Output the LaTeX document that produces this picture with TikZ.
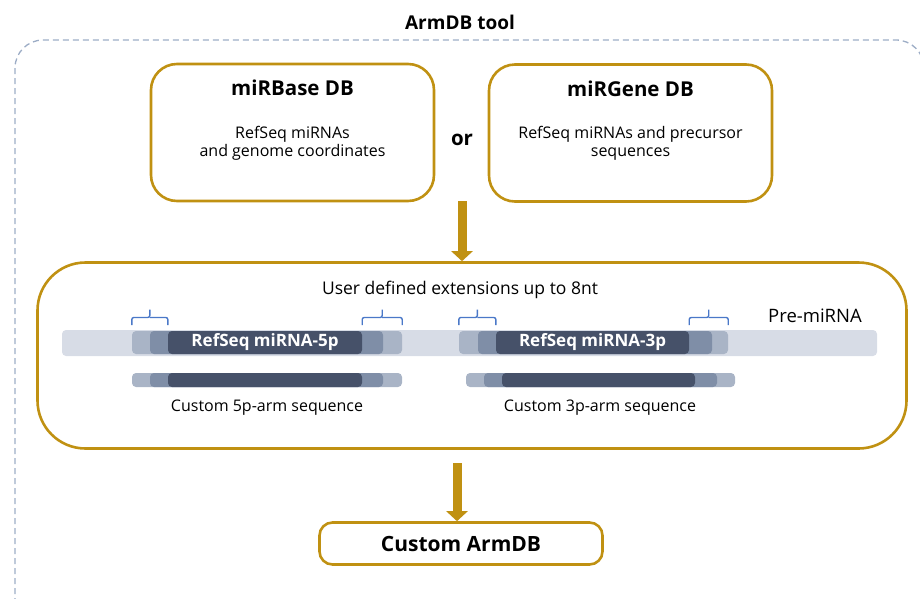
\documentclass[tikz,border=0pt]{standalone}
\usepackage{fontspec}
\setmainfont{Open Sans}
\usetikzlibrary{arrows.meta, positioning, calc}
\definecolor{armgold}{HTML}{C09112}
\definecolor{armdash}{HTML}{9DADC6}
\definecolor{bracketblue}{HTML}{4A78C8}
\definecolor{segpale}{HTML}{D7DCE6}
\definecolor{seglight}{HTML}{A9B4C6}
\definecolor{segmid}{HTML}{7F8EA7}
\definecolor{segdark}{HTML}{465169}

\begin{document}
\begin{tikzpicture}[x=1pt, y=-1pt,
    dbbox/.style={draw=armgold, line width=2.6pt, rounded corners=26pt, minimum width=283pt, minimum height=137pt},
    dbtitle/.style={font=\bfseries\fontsize{20.5}{24}\selectfont},
    dbtext/.style={font=\fontsize{16}{18}\selectfont, align=center},
    plain/.style={font=\fontsize{16}{19}\selectfont},
    seg/.style={rounded corners=4pt, inner sep=0pt, minimum height=#1},
    seg/.default=23pt,
    armline/.style={armgold, line width=9pt, -{Triangle[width=21pt, length=10pt]}},
    extbrace/.style={draw=bracketblue, line width=1.4pt, rounded corners=2pt}
  ]
    \useasboundingbox (0,0) rectangle (920,598);
    \begin{scope}
    \clip (0,0) rectangle (920,598);
    \draw[armdash, line width=1.3pt, dash pattern=on 6pt off 4pt, rounded corners=28pt] (15,40) rectangle (924,650);
    \end{scope}
    \node[font=\bfseries\fontsize{19}{22}\selectfont] (tool) at (460,22) {ArmDB tool};

    % the two sources
    \node[dbbox] (base) at (292.5,132.5) {};
    \node[dbtitle, below=14pt of base.north] (basetitle) {miRBase DB};
    \node[dbtext, below=23pt of basetitle] (basetext) {RefSeq miRNAs\\and genome coordinates};
    \node[dbbox] (gene) at (630.5,133) {};
    \node[dbtitle, below=14pt of gene.north] (genetitle) {miRGene DB};
    \node[dbtext, below=23pt of genetitle] (genetext) {RefSeq miRNAs and precursor\\sequences};
    \node[dbtitle] (or) at (462,140) {or};

    % extension step
    \node[draw=armgold, line width=2.6pt, rounded corners=48pt, minimum width=869pt, minimum height=186pt] (ext) at (472,355.5) {};
    \node[font=\fontsize{17.5}{20}\selectfont] (extlabel) at (460,290) {User defined extensions up to 8nt};
    \node[font=\fontsize{18.5}{21}\selectfont] (prelabel) at (815,316) {Pre-miRNA};
    \node[seg=26pt, fill=segpale, minimum width=815pt] (pre) at (469.5,343) {};

    \node[seg, fill=seglight, minimum width=270pt] (o5) at (267,342.5) {};
    \node[seg, fill=segmid, minimum width=233pt] (m5) at (266.5,342.5) {};
    \node[seg, fill=segdark, minimum width=194pt, text=white, font=\bfseries\fontsize{17}{19}\selectfont] (d5) at (265,342.5) {RefSeq miRNA-5p};
    \node[seg, fill=seglight, minimum width=269pt] (o3) at (593.5,342.5) {};
    \node[seg, fill=segmid, minimum width=234pt] (m3) at (595,342.5) {};
    \node[seg, fill=segdark, minimum width=193pt, text=white, font=\bfseries\fontsize{17}{19}\selectfont] (d3) at (592.5,342.5) {RefSeq miRNA-3p};

    \foreach \s in {5,3} {
      \draw[extbrace] (o\s.west |- 0,325) |- ($(o\s.west)!0.5!(d\s.west) + (0,-25)$) -- ++(0,-8);
      \draw[extbrace] ($(o\s.west)!0.5!(d\s.west) + (0,-25)$) -| (d\s.west |- 0,325);
      \draw[extbrace] (d\s.east |- 0,325) |- ($(d\s.east)!0.5!(o\s.east) + (0,-25)$) -- ++(0,-8);
      \draw[extbrace] ($(d\s.east)!0.5!(o\s.east) + (0,-25)$) -| (o\s.east |- 0,325);
    }

    \node[seg=14pt, fill=seglight, minimum width=270pt] (c5o) at (267,380) {};
    \node[seg=14pt, fill=segmid, minimum width=233pt] (c5m) at (266.5,380) {};
    \node[seg=14pt, fill=segdark, minimum width=194pt] (c5d) at (265,380) {};
    \node[seg=14pt, fill=seglight, minimum width=269pt] (c3o) at (600.5,380) {};
    \node[seg=14pt, fill=segmid, minimum width=233pt] (c3m) at (600.5,380) {};
    \node[seg=14pt, fill=segdark, minimum width=193pt] (c3d) at (598.5,380) {};
    \node[plain] (c5label) at (267,408) {Custom 5p-arm sequence};
    \node[plain] (c3label) at (600,408) {Custom 3p-arm sequence};

    % result
    \node[draw=armgold, line width=2.6pt, rounded corners=13pt, minimum width=283pt, minimum height=42pt, font=\bfseries\fontsize{21}{24}\selectfont] (armdb) at (461,543.5) {Custom ArmDB};

    \coordinate (src) at (or.center |- 0,201);
    \draw[armline] (src) -- (src |- ext.north);
    \coordinate (res) at (457,463);
    \draw[armline] (res) -- (res |- armdb.north);
  \end{tikzpicture}
\end{document}
